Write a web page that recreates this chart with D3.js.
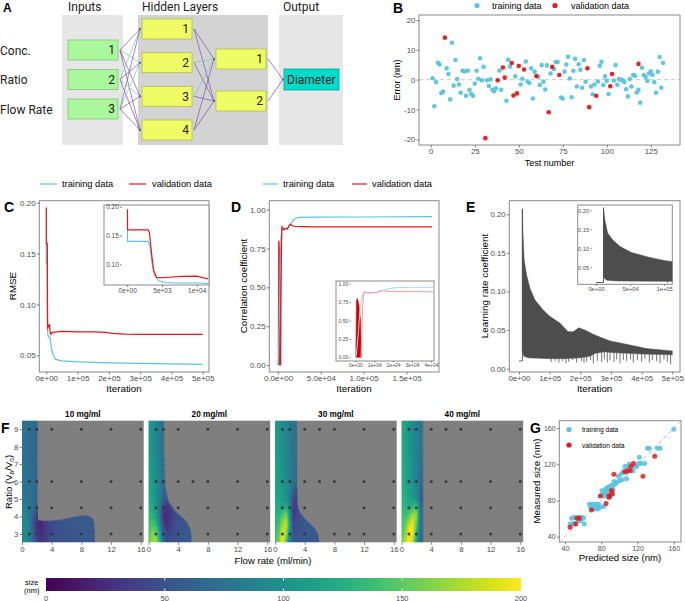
<!DOCTYPE html>
<html><head><meta charset="utf-8">
<script src="https://cdn.jsdelivr.net/npm/d3@7/dist/d3.min.js"></script>
<style>html,body{margin:0;padding:0;background:#fff;}svg{display:block;}</style>
</head><body>
<svg id="chart" width="685" height="601" xmlns="http://www.w3.org/2000/svg"></svg>
<script>
// ================= DATA =================
// Panel A
const layerTitles = ["Inputs", "Hidden Layers", "Output"];
const inputNames = ["Conc.", "Ratio", "Flow Rate"];
const inputNodes = ["1", "2", "3"];
const hidden1Nodes = ["1", "2", "3", "4"];
const hidden2Nodes = ["1", "2"];
const outputNodes = ["Diameter"];
const w1Sign = [[-1, 1, -1, -1], [1, -1, 1, -1], [-1, 1, -1, -1]];
const w2Sign = [[-1, -1], [1, -1], [1, -1], [-1, -1]];
const w3Sign = [[-1], [-1]];

// Panel B : [test number, error]
const bTrain = [[1,0.5],[2,-8.9],[3,-0.8],[4,5.7],[5,5.1],[6,-4.5],[7,-4],[9,3.8],[10,1.9],[11,-6.6],[12,12.4],[13,-2],[14,6.6],[15,0.2],[16,-1.6],[17,-4.4],[18,3],[19,2.8],[20,-5.4],[21,3],[22,-3.4],[23,-4.8],[24,-5.4],[25,-1.3],[26,3],[27,0.3],[28,7.2],[29,-0.2],[30,4.3],[32,-0.2],[33,-2.1],[34,0.1],[35,-3.4],[36,-3.9],[37,-2.9],[39,3.1],[40,-3.4],[43,-7.1],[44,6.7],[45,4.4],[48,1.1],[51,-1.6],[52,0.3],[54,6.1],[55,-0.6],[56,-1.1],[57,3.8],[58,-6.3],[59,2.7],[61,1.0],[62,-1.8],[63,4.9],[64,-0.7],[65,-3.3],[66,4.8],[68,2.1],[70,3.6],[71,5.9],[72,5.9],[74,-6.0],[75,-6.3],[76,2.7],[77,5.1],[78,7.7],[79,0.4],[80,-5.9],[81,3.0],[82,7.0],[83,-2.3],[84,5.2],[85,3.3],[86,-2.7],[87,6.6],[88,-0.7],[91,-2.3],[92,-4.9],[93,-1.6],[95,-0.6],[96,4.7],[97,6.0],[98,-1.8],[99,1.1],[100,-0.4],[101,-4.8],[104,-0.3],[105,4.9],[106,-1.7],[107,0.2],[108,0],[109,-0.2],[110,-0.8],[111,-3.2],[112,-5.6],[113,0.2],[114,-2.3],[115,1.6],[116,1.3],[117,-4.3],[118,-3.4],[119,-7.7],[120,4.0],[121,1.6],[122,1.0],[123,-0.4],[124,2.1],[125,2.8],[126,1.6],[127,-0.8],[128,-4.4],[129,2.7],[130,7.6],[131,-2.7],[132,5.6]];
const bVal = [[8,14.1],[31,-19.6],[38,-0.2],[41,4.1],[42,0.7],[46,5.6],[47,-5.3],[49,-4.6],[50,4.6],[53,3.4],[60,1.2],[67,-10.9],[69,4.3],[73,1.6],[89,3.8],[90,-9.2],[94,-5.4],[102,-2.2],[103,1.9],[118,5.3]];
const bXTicks = [0, 25, 50, 75, 100, 125];
const bYTicks = [-20, -10, 0, 10, 20];

// Panel C : RMSE vs iteration
const cRedIter = [0,30,60,3000,3200,3500,3800,4200,4700,6000,8000,10000,12000,14000,20000,50000,100000,150000,190000,210000,250000,300000,400000,500000];
const cRedVal  = [0.195,0.195,0.16,0.16,0.155,0.12,0.09,0.078,0.077,0.078,0.0795,0.08,0.074,0.071,0.0725,0.0735,0.073,0.073,0.0725,0.0715,0.0708,0.0705,0.0705,0.0705];
const cCyanIter = [0,30,60,3000,3300,3600,4000,4500,5500,7000,10000,12000,16000,22000,30000,50000,100000,200000,300000,400000,500000];
const cCyanVal  = [0.16,0.16,0.14,0.14,0.13,0.10,0.08,0.072,0.069,0.068,0.068,0.067,0.058,0.05,0.046,0.0445,0.0435,0.0425,0.042,0.0415,0.041];
const cXTicks = [0, 100000, 200000, 300000, 400000, 500000];
const cYTicks = [0.05, 0.10, 0.15, 0.20];
const cInXTicks = [0, 5000, 10000];
const cInYTicks = [0.10, 0.15, 0.20];

// Panel D : correlation vs iteration
const dCyanIter = [0,500,1500,2500,3500,4500,6000,9000,12000,15000,18000,21000,25000,40000,100000,180000];
const dCyanVal  = [0,0.02,0.3,0.65,0.82,0.875,0.88,0.88,0.885,0.91,0.935,0.945,0.95,0.952,0.953,0.955];
const dRedIter = [3000,3600,4200,4600,5500,6500,8000,10000,11000,13000,15000,17000,20000,40000,180000];
const dRedVal  = [0.0,0.5,0.8,0.89,0.885,0.87,0.875,0.88,0.875,0.9,0.905,0.895,0.893,0.89,0.89];
const dSpikeIter = [300,600,1200,2000,2800,3200];
const dSpikeTop  = [0.1,0.78,0.8,0.7,0.5,0.0];
const dXTicks = [0, 50000, 100000, 150000];
const dYTicks = [0, 0.25, 0.5, 0.75, 1];
const dInXTicks = [0, 10000, 20000, 30000, 40000];

// Panel E : learning rate coefficient
const eFlatIter = [0, 11000];
const eFlatVal = [0.01, 0.01];
const eUpperIter = [11000,13000,17000,25000,36000,52000,79000,100000,134000,160000,177000,195000,215000,242000,270000,297000,350000,416000,500000];
const eUpperVal  = [0.207,0.175,0.14,0.121,0.104,0.089,0.076,0.068,0.059,0.048,0.048,0.053,0.05,0.0445,0.04,0.036,0.0316,0.026,0.023];
const eLowerIter = [11000,13000,16000,30000,100000,150000,200000,230000,250000,280000,300000,400000,500000];
const eLowerVal  = [0.025,0.02,0.016,0.014,0.013,0.013,0.014,0.016,0.02,0.022,0.021,0.019,0.018];
const eSpikeIter = [105000,118000,130000,142400,153300,162000,175000,188000,204300,212000,220700,233700,242400,255400,269600,278300,288000,296700,309800,318500,329300,340200,351100,364100,372800,385900,400000,410900,425000,434800,448900,459800,472800,483700,494600];
const eSpikeLow  = [0.009,0.01,0.008,0.01,0.007,0.009,0.011,0.008,0.01,0.008,0.009,0.011,0.007,0.01,0.009,0.012,0.008,0.011,0.009,0.012,0.007,0.011,0.01,0.012,0.008,0.011,0.009,0.013,0.008,0.011,0.01,0.007,0.012,0.009,0.006];
const eXTicks = [0, 100000, 200000, 300000, 400000, 500000];
const eYTicks = [0, 0.05, 0.10, 0.15, 0.20];
const eInXTicks = [0, 50000, 100000];
const eInYTicks = [0.05, 0.10, 0.15, 0.20];

// Panel F : predicted size maps
const concs = ["10 mg/ml", "20 mg/ml", "30 mg/ml", "40 mg/ml"];
const gridFlows = [0, 0.5, 1, 1.5, 2, 2.5, 3, 4, 6, 8, 10];
const gridRatios = [2.5, 3, 3.5, 4, 4.5, 5, 6, 7.5, 9.5];
const grid10 = [
 [97,94,86,64,40,28,34,48,53,55,55],
 [95,92,85,62,38,25,32,48,53,55,55],
 [100,95,85,55,25,18,28,45,53,56,55],
 [95,90,80,60,35,28,38,48,55,57,55],
 [88,83,78,70,60,48,45,50,55,55,55],
 [82,78,74,70,65,55,50,52,55,55,55],
 [78,75,72,69,66,60,55,55,55,55,55],
 [75,72,70,68,66,60,55,55,55,55,55],
 [75,72,70,68,66,60,55,55,55,55,55]];
const grid20 = [
 [145,170,175,130,70,45,48,55,55,55,55],
 [140,165,160,115,60,38,45,55,55,55,55],
 [138,145,135,95,45,28,40,52,55,55,55],
 [135,130,118,80,28,22,35,50,55,55,55],
 [130,122,108,78,38,30,40,52,55,55,55],
 [125,116,102,85,60,48,48,52,55,55,55],
 [118,110,98,85,72,62,58,58,55,55,55],
 [112,104,94,83,74,68,65,60,55,55,55],
 [108,100,90,80,72,68,65,60,55,55,55]];
const grid30 = [
 [140,160,200,150,80,55,55,55,55,55,55],
 [135,150,195,170,90,50,52,55,55,55,55],
 [130,140,170,185,110,40,50,55,55,55,55],
 [128,130,150,170,100,30,48,55,55,55,55],
 [125,122,120,125,90,30,45,55,55,55,55],
 [122,118,110,102,80,45,40,55,55,55,55],
 [118,112,105,96,86,75,62,60,55,55,55],
 [112,107,100,92,84,76,70,60,55,55,55],
 [110,105,98,90,82,75,70,60,55,55,55]];
const grid40 = [
 [150,180,200,180,110,70,55,55,55,55,55],
 [145,165,200,195,130,75,55,55,55,55,55],
 [142,150,185,200,150,80,55,55,55,55,55],
 [140,138,150,180,170,85,55,55,55,55,55],
 [136,130,128,135,150,80,45,55,55,55,55],
 [132,125,118,110,100,70,35,55,55,55,55],
 [128,120,110,100,90,75,50,55,55,55,55],
 [124,117,107,97,88,80,70,60,55,55,55],
 [122,115,105,95,88,80,72,60,55,55,55]];
// upper edge of the predicted (coloured) region: ratio limit vs flow rate
const bound10Flow = [0,2.1,2.12,3,4,5,6,7,8,8.8,9.3,9.6,9.75,9.8,9.82];
const bound10Top  = [9.6,9.6,3.8,3.74,3.76,3.8,3.88,3.98,4.05,4.05,3.95,3.8,3.5,3.0,2.4];
const bound20Flow = [0,2.05,2.1,2.3,2.7,3.6,4.7,5.3,5.7,5.8,5.82];
const bound20Top  = [9.6,9.6,7.5,5.6,4.85,4.3,3.9,3.6,3.2,2.8,2.4];
const bound30Flow = [0,2.95,3.0,3.3,4.0,4.7,5.4,5.8,5.9,5.92];
const bound30Top  = [9.6,9.6,4.75,4.27,3.9,3.6,3.3,3.0,2.7,2.4];
const bound40Flow = [0,2.9,2.92];
const bound40Top  = [9.6,9.6,2.4];
// experiment points [flow, ratio]
const dots10 = [[1,9],[2,9],[4,9],[8,9],[12,9],[16,9],[1,6],[2,6],[4,6],[8,6],[12,6],[16,6],[1,4.5],[2,4.5],[4,4.5],[8,4.5],[12,4.5],[16,4.5],[1,3],[2,3],[4,3],[8,3],[12,3],[16,3]];
const dots20 = [[1,9],[2,9],[4,9],[8,9],[12,9],[16,9],[1,6],[2,6],[4,6],[6,6],[8,6],[12,6],[16,6],[1,4.5],[2,4.5],[4,4.5],[8,4.5],[12,4.5],[16,4.5],[1,3],[2,3],[4,3],[8,3],[12,3],[16,3]];
const dots30 = [[1,9],[2,9],[4,9],[6,9],[8,9],[12,9],[16,9],[1,6],[2,6],[4,6],[6,6],[8,6],[12,6],[16,6],[1,4.5],[2,4.5],[4,4.5],[12,4.5],[16,4.5],[1,3],[2,3],[4,3],[8,3],[10,3],[12,3],[16,3]];
const dots40 = [[1,9],[2,9],[4,9],[6,9],[8,9],[12,9],[16,9],[1,6],[2,6],[4,6],[6,6],[8,6],[12,6],[16,6],[1,4.5],[2,4.5],[4,4.5],[8,4.5],[12,4.5],[16,4.5],[1,3],[2,3],[4,3],[8,3],[12,3],[16,3]];
const fXTicks = [0, 4, 8, 12, 16];
const fYTicks = [3, 4, 5, 6, 7, 8, 9];
const cbTicks = [0, 50, 100, 150, 200];

// Panel G : [predicted, measured]
const gTrain = [[160,159],[131,138],[133,138],[142,138],[145,138],[122,128],[121,121],[124,121],[128,121],[111,120.5],[106,117.6],[109,117.6],[117,118],[119,117.6],[115,113],[104,112],[108,111],[102,109.5],[99,107],[94,101],[97,100],[100,102],[103,103],[108,104],[91,96.6],[88,95],[86,91],[89.5,91],[93,92],[81,91],[83,89],[84.5,87.5],[80,85.6],[83,85],[86,85.6],[87.6,83.7],[91,85.6],[85,93],[87,94],[90,95],[92,96],[95,98],[67,75.8],[70,75.8],[73.6,75.8],[77,75.8],[68,72.5],[72,72.5],[75.5,72.5],[79,72.5],[82.7,73.3],[70,71],[73.6,70.7],[76.6,70.7],[47.4,60.3],[50.3,61.4],[52.9,61],[55.5,61.4],[58.4,61.4],[60.2,60.3],[45.6,53.9],[48.1,53.9],[50.3,54.7],[54.8,57.6],[57.4,57.6],[61.3,53.9]];
const gVal = [[139,129],[115.5,121],[112.6,117.6],[106,112],[109,113],[112,113],[126,107],[94,109],[91.3,91],[92.4,87.4],[88.7,85.6],[89,83.7],[79,84.9],[85.3,76.6],[69.3,69.6],[53.3,60.3],[55.9,60.3],[45.6,50.3],[51.8,53.9]];
const gTicks = [40, 80, 120, 160];

// ================= DRAWING =================
const FONT = "'Liberation Sans', Arial, Helvetica, sans-serif";
const CY = "#5bc3de", RD = "#e3191c", DG = "#4d4d4d", BORDER = "#8a8a8a";
const svg = d3.select("#chart");
svg.append("rect").attr("width", 685).attr("height", 601).attr("fill", "#fff");
const defs = svg.append("defs");

function txt(g, x, y, s, o = {}) {
  const t = g.append("text").attr("x", x).attr("y", y).text(s)
    .attr("font-family", o.ff || FONT).attr("font-size", o.fs || 10).attr("fill", o.fill || "#000");
  if (o.anchor) t.attr("text-anchor", o.anchor);
  if (o.bold) t.attr("font-weight", "bold");
  if (o.rot) t.attr("transform", `rotate(-90,${x},${y})`);
  return t;
}
function sci(d, p) {
  if (d === 0) return (p ? (0).toFixed(p) : "0") + "e+00";
  const e = Math.floor(Math.log10(Math.abs(d)) + 1e-9);
  const m = d / Math.pow(10, e);
  return m.toFixed(p) + "e" + (e < 0 ? "-" : "+") + String(Math.abs(e)).padStart(2, "0");
}
function styleAxis(a, fs) {
  a.select(".domain").remove();
  a.attr("font-size", fs).attr("font-family", FONT);
  a.selectAll("line").attr("stroke", "#333").attr("stroke-width", 0.6);
  a.selectAll("text").attr("fill", "#4d4d4d");
}
function axB(g, scale, y, vals, fmt, fs, size = 2.5) {
  const a = g.append("g").attr("transform", `translate(0,${y})`)
    .call(d3.axisBottom(scale).tickValues(vals).tickFormat(fmt).tickSize(size).tickPadding(1.2));
  styleAxis(a, fs); return a;
}
function axL(g, scale, x, vals, fmt, fs, size = 2.5) {
  const a = g.append("g").attr("transform", `translate(${x},0)`)
    .call(d3.axisLeft(scale).tickValues(vals).tickFormat(fmt).tickSize(size).tickPadding(1.2));
  styleAxis(a, fs); return a;
}
let clipId = 0;
function clip(x0, y0, x1, y1) {
  const id = "cl" + (clipId++);
  defs.append("clipPath").attr("id", id).append("rect").attr("x", x0).attr("y", y0).attr("width", x1 - x0).attr("height", y1 - y0);
  return `url(#${id})`;
}
function frame(g, x0, y0, x1, y1, fill = "none") {
  g.append("rect").attr("x", x0).attr("y", y0).attr("width", x1 - x0).attr("height", y1 - y0)
    .attr("fill", fill).attr("stroke", BORDER).attr("stroke-width", 1);
}
const zip = (a, b) => a.map((v, i) => [v, b[i]]);

// ---------- Panel A ----------
{
  const g = svg.append("g");
  const AF = "Roboto, 'Liberation Sans', sans-serif";
  txt(g, 3, 12, "A", { fs: 12, bold: true });
  const bgs = [[62, 123, "#e6e6e6"], [138, 268, "#d3d3d3"], [279, 343, "#e6e6e6"]];
  bgs.forEach(b => g.append("rect").attr("x", b[0]).attr("y", 15).attr("width", b[1] - b[0]).attr("height", 130).attr("fill", b[2]));
  const titleX = [68, 142, 283];
  layerTitles.forEach((t, i) => txt(g, titleX[i], 10.5, t, { ff: AF, fs: 12, fill: "#222" }));
  const yIn = d3.scalePoint().domain(inputNodes).range([50, 109]);
  const yH1 = d3.scalePoint().domain(hidden1Nodes).range([29, 130]);
  const yH2 = d3.scalePoint().domain(hidden2Nodes).range([59, 101]);
  const yOut = d3.scalePoint().domain(outputNodes).range([79.5, 79.5]);
  const col = s => s > 0 ? "#7fcab9" : "#7a5ea6";
  const lines = g.append("g").attr("stroke-width", 0.75).attr("fill", "none");
  inputNodes.forEach((a, i) => hidden1Nodes.forEach((b, j) =>
    lines.append("line").attr("x1", 120).attr("y1", yIn(a)).attr("x2", 140).attr("y2", yH1(b)).attr("stroke", col(w1Sign[i][j]))));
  hidden1Nodes.forEach((a, i) => hidden2Nodes.forEach((b, j) =>
    lines.append("line").attr("x1", 194).attr("y1", yH1(a)).attr("x2", 214).attr("y2", yH2(b)).attr("stroke", col(w2Sign[i][j]))));
  hidden2Nodes.forEach((a, i) => outputNodes.forEach((b, j) =>
    lines.append("line").attr("x1", 268).attr("y1", yH2(a)).attr("x2", 283).attr("y2", yOut(b)).attr("stroke", col(w3Sign[i][j]))));
  function boxes(nodes, sc, x0, w, h, fill, stroke, textX, anchor) {
    nodes.forEach(n => {
      g.append("rect").attr("x", x0).attr("y", sc(n) - h / 2).attr("width", w).attr("height", h)
        .attr("fill", fill).attr("stroke", stroke).attr("stroke-width", 0.8);
      txt(g, textX, sc(n) + 4.3, n, { ff: AF, fs: 12, fill: "#222", anchor });
    });
  }
  boxes(inputNodes, yIn, 68, 50, 20, "#abf79c", "#86c27a", 115, "end");
  boxes(hidden1Nodes, yH1, 142, 50, 20, "#eefd66", "#b5bd45", 189, "end");
  boxes(hidden2Nodes, yH2, 216, 50, 20, "#eefd66", "#b5bd45", 263, "end");
  boxes(outputNodes, yOut, 284, 55, 21, "#00dccb", "#00a597", 287, "start");
  [[hidden1Nodes, yH1, 140], [hidden2Nodes, yH2, 214], [outputNodes, yOut, 283]].forEach(([n, sc, x]) =>
    n.forEach(v => g.append("circle").attr("cx", x).attr("cy", sc(v)).attr("r", 1).attr("fill", "#5d4a86")));
  inputNames.forEach((n, i) => txt(g, 0, yIn(inputNodes[i]) + 4.5, n, { ff: AF, fs: 12, fill: "#222" }));
}

// ---------- Panel B ----------
{
  const g = svg.append("g");
  const x = d3.scaleLinear().domain([-6.7, 141.6]).range([419, 680]);
  const y = d3.scaleLinear().domain([-21.9, 21.7]).range([145, 15]);
  g.append("line").attr("x1", 419).attr("x2", 680).attr("y1", y(0)).attr("y2", y(0))
    .attr("stroke", "#c8c8c8").attr("stroke-dasharray", "4,3").attr("stroke-width", 1);
  g.selectAll(".bt").data(bTrain).join("circle").attr("cx", d => x(d[0])).attr("cy", d => y(d[1])).attr("r", 2.3).attr("fill", CY).attr("opacity", 0.95);
  g.selectAll(".bv").data(bVal).join("circle").attr("cx", d => x(d[0])).attr("cy", d => y(d[1])).attr("r", 2.3).attr("fill", RD).attr("opacity", 0.95);
  frame(g, 419, 15, 680, 145);
  axB(g, x, 145, bXTicks, d => String(d), 7.8);
  axL(g, y, 419, bYTicks, d => String(d), 7.8);
  txt(g, 549.5, 166, "Test number", { fs: 9, anchor: "middle" });
  txt(g, 400, 80, "Error (nm)", { fs: 9, anchor: "middle", rot: true });
  txt(g, 393, 13, "B", { fs: 14, bold: true });
  g.append("circle").attr("cx", 477).attr("cy", 5.5).attr("r", 2.6).attr("fill", CY);
  txt(g, 492, 9, "training data", { fs: 9 });
  g.append("circle").attr("cx", 555).attr("cy", 5.5).attr("r", 2.6).attr("fill", RD);
  txt(g, 571, 9, "validation data", { fs: 9 });
}

// ---------- Panel C ----------
{
  const g = svg.append("g");
  const x = d3.scaleLinear().domain([-22400, 520000]).range([39.3, 209]);
  const y = d3.scaleLinear().domain([0.0336, 0.202]).range([372, 200.7]);
  const line = d3.line().x(d => x(d[0])).y(d => y(d[1]));
  const cp = clip(39.3, 200.7, 209, 372);
  g.append("path").attr("d", line(zip(cCyanIter, cCyanVal))).attr("fill", "none").attr("stroke", CY).attr("stroke-width", 1.2).attr("clip-path", cp);
  g.append("path").attr("d", line(zip(cRedIter, cRedVal))).attr("fill", "none").attr("stroke", RD).attr("stroke-width", 1.3).attr("clip-path", cp);
  frame(g, 39.3, 200.7, 209, 372);
  axB(g, x, 372, cXTicks, d => sci(d, 0), 8);
  axL(g, y, 39.3, cYTicks, d3.format(".2f"), 8);
  txt(g, 124, 392, "Iteration", { fs: 9.8, anchor: "middle" });
  txt(g, 15.5, 286, "RMSE", { fs: 9.8, anchor: "middle", rot: true });
  txt(g, 4, 212, "C", { fs: 14, bold: true });
  g.append("line").attr("x1", 40).attr("x2", 57).attr("y1", 184).attr("y2", 184).attr("stroke", CY).attr("stroke-width", 1.2);
  txt(g, 62, 187.3, "training data", { fs: 9.3 });
  g.append("line").attr("x1", 129).attr("x2", 146).attr("y1", 184).attr("y2", 184).attr("stroke", RD).attr("stroke-width", 1.2);
  txt(g, 152, 187.3, "validation data", { fs: 9.3 });
  // inset
  const xi = d3.scaleLinear().domain([-750, 11630]).range([122, 208]);
  const yi = d3.scaleLinear().domain([0.0646, 0.203]).range([285, 205]);
  frame(g, 104, 205, 209, 285, "#fff");
  const li = d3.line().x(d => xi(d[0])).y(d => yi(d[1]));
  const cpi = clip(122, 205, 208, 285);
  g.append("path").attr("d", li(zip(cCyanIter, cCyanVal))).attr("fill", "none").attr("stroke", CY).attr("stroke-width", 1.1).attr("clip-path", cpi);
  g.append("path").attr("d", li(zip(cRedIter, cRedVal))).attr("fill", "none").attr("stroke", RD).attr("stroke-width", 1.2).attr("clip-path", cpi);
  axB(g, xi, 285, cInXTicks, d => sci(d, 0), 6.5, 2);
  axL(g, yi, 122, cInYTicks, d3.format(".2f"), 6.5, 2);
}

// ---------- Panel D ----------
{
  const g = svg.append("g");
  const x = d3.scaleLinear().domain([-10150, 187900]).range([269.3, 439]);
  const y = d3.scaleLinear().domain([-0.045, 1.058]).range([372, 200.7]);
  const line = d3.line().x(d => x(d[0])).y(d => y(d[1]));
  const area = d3.area().x(d => x(d[0])).y0(y(0)).y1(d => y(d[1]));
  const cp = clip(269.3, 200.7, 439, 372);
  g.append("path").attr("d", area(zip(dSpikeIter, dSpikeTop))).attr("fill", RD).attr("stroke", RD).attr("stroke-width", 0.8).attr("clip-path", cp);
  g.append("path").attr("d", line(zip(dCyanIter, dCyanVal))).attr("fill", "none").attr("stroke", CY).attr("stroke-width", 1.2).attr("clip-path", cp);
  g.append("path").attr("d", line(zip(dRedIter, dRedVal))).attr("fill", "none").attr("stroke", RD).attr("stroke-width", 1.2).attr("clip-path", cp);
  frame(g, 269.3, 200.7, 439, 372);
  axB(g, x, 372, dXTicks, d => sci(d, 1), 8);
  axL(g, y, 269.3, dYTicks, d3.format(".2f"), 8);
  txt(g, 354, 392, "Iteration", { fs: 9.8, anchor: "middle" });
  txt(g, 246.5, 286, "Correlation coefficient", { fs: 9.8, anchor: "middle", rot: true });
  txt(g, 231, 212, "D", { fs: 14, bold: true });
  g.append("line").attr("x1", 263).attr("x2", 278).attr("y1", 184).attr("y2", 184).attr("stroke", CY).attr("stroke-width", 1.2);
  txt(g, 283, 187.3, "training data", { fs: 9.3 });
  g.append("line").attr("x1", 352).attr("x2", 367).attr("y1", 184).attr("y2", 184).attr("stroke", RD).attr("stroke-width", 1.2);
  txt(g, 372, 187.3, "validation data", { fs: 9.3 });
  // inset
  const xi = d3.scaleLinear().domain([-2270, 41100]).range([351, 433]);
  const yi = d3.scaleLinear().domain([-0.05, 1.037]).range([361, 281]);
  frame(g, 336, 281, 434, 361, "#fff");
  const li = d3.line().x(d => xi(d[0])).y(d => yi(d[1]));
  const ai = d3.area().x(d => xi(d[0])).y0(yi(0)).y1(d => yi(d[1]));
  const cpi = clip(351, 281, 433, 361);
  g.append("path").attr("d", ai(zip(dSpikeIter, dSpikeTop))).attr("fill", "#d40000").attr("stroke", "#d40000").attr("stroke-width", 0.5).attr("clip-path", cpi);
  g.append("path").attr("d", li(zip(dCyanIter, dCyanVal))).attr("fill", "none").attr("stroke", "#a3dcec").attr("stroke-width", 1).attr("clip-path", cpi);
  g.append("path").attr("d", li(zip(dRedIter, dRedVal))).attr("fill", "none").attr("stroke", "#f39a9a").attr("stroke-width", 1).attr("clip-path", cpi);
  axB(g, xi, 361, dInXTicks, d => sci(d, 0), 5, 1.5);
  axL(g, yi, 351, dYTicks, d3.format(".2f"), 5, 1.5);
}

// ---------- Panel E ----------
function drawLR(g, x, y, cp, sw) {
  const up = zip(eUpperIter, eUpperVal), lo = zip(eLowerIter, eLowerVal).reverse();
  const poly = d3.line().x(d => x(d[0])).y(d => y(d[1]));
  g.append("path").attr("d", poly(up.concat(lo)) + "Z").attr("fill", DG).attr("stroke", DG).attr("stroke-width", 0.5).attr("clip-path", cp);
  g.append("path").attr("d", poly(zip(eFlatIter, eFlatVal).concat([[eUpperIter[0], eUpperVal[0]]]))).attr("fill", "none").attr("stroke", DG).attr("stroke-width", 0.9).attr("clip-path", cp);
  const loS = d3.scaleLinear().domain(eLowerIter).range(eLowerVal);
  g.append("g").attr("clip-path", cp).selectAll("line").data(zip(eSpikeIter, eSpikeLow)).join("line")
    .attr("x1", d => x(d[0])).attr("x2", d => x(d[0])).attr("y1", d => y(loS(d[0]))).attr("y2", d => y(d[1]))
    .attr("stroke", DG).attr("stroke-width", sw);
}
{
  const g = svg.append("g");
  const x = d3.scaleLinear().domain([-31600, 525100]).range([509.3, 680]);
  const y = d3.scaleLinear().domain([-0.0043, 0.2176]).range([372, 200.7]);
  drawLR(g, x, y, clip(509.3, 200.7, 680, 372), 0.8);
  frame(g, 509.3, 200.7, 680, 372);
  axB(g, x, 372, eXTicks, d => sci(d, 0), 7.8);
  axL(g, y, 509.3, eYTicks, d3.format(".2f"), 7.8);
  txt(g, 594.6, 392, "Iteration", { fs: 9.8, anchor: "middle" });
  txt(g, 488, 286, "Learning rate coefficient", { fs: 9.8, anchor: "middle", rot: true });
  txt(g, 466, 212, "E", { fs: 14, bold: true });
  // inset
  const xi = d3.scaleLinear().domain([-5900, 112000]).range([592, 672.3]);
  const yi = d3.scaleLinear().domain([0.0053, 0.214]).range([284.3, 205]);
  frame(g, 577.7, 205, 672.3, 284.3, "#fff");
  drawLR(g, xi, yi, clip(592, 205, 672.3, 284.3), 0.8);
  axB(g, xi, 284.3, eInXTicks, d => sci(d, 0), 5.8, 1.5);
  axL(g, yi, 592, eInYTicks, d3.format(".2f"), 5.8, 1.5);
}

// ---------- Panel F ----------
{
  const g = svg.append("g");
  const grids = [grid10, grid20, grid30, grid40];
  const bFlows = [bound10Flow, bound20Flow, bound30Flow, bound40Flow];
  const bTops = [bound10Top, bound20Top, bound30Top, bound40Top];
  const dots = [dots10, dots20, dots30, dots40];
  const band = d3.scaleBand().domain(concs).range([22, 523.2]).paddingInner(0.038);
  const Y0 = 420.7, Y1 = 542.3;
  const y = d3.scaleLinear().domain([2.52, 9.49]).range([Y1, Y0]);
  const color = d3.scaleSequential(d3.interpolateViridis).domain([0, 200]);
  function bilinear(grid, f, r) {
    let i = d3.bisectRight(gridFlows, f) - 1; i = Math.max(0, Math.min(gridFlows.length - 2, i));
    let j = d3.bisectRight(gridRatios, r) - 1; j = Math.max(0, Math.min(gridRatios.length - 2, j));
    const tf = Math.max(0, Math.min(1, (f - gridFlows[i]) / (gridFlows[i + 1] - gridFlows[i])));
    const tr = Math.max(0, Math.min(1, (r - gridRatios[j]) / (gridRatios[j + 1] - gridRatios[j])));
    const a = grid[j][i] * (1 - tf) + grid[j][i + 1] * tf;
    const b = grid[j + 1][i] * (1 - tf) + grid[j + 1][i + 1] * tf;
    return a * (1 - tr) + b * tr;
  }
  concs.forEach((c, k) => {
    const x0 = band(c), bw = band.bandwidth();
    const x = d3.scaleLinear().domain([0, 16.4]).range([x0, x0 + bw]);
    const pw = Math.round(bw) * 2, ph = Math.round(Y1 - Y0) * 2;
    const cv = document.createElement("canvas"); cv.width = pw; cv.height = ph;
    const ctx = cv.getContext("2d"); const img = ctx.createImageData(pw, ph);
    const topS = d3.scaleLinear().domain(bFlows[k]).range(bTops[k]);
    const maxF = bFlows[k][bFlows[k].length - 1];
    for (let py = 0; py < ph; py++) {
      const r = y.invert(Y0 + (py + 0.5) * (Y1 - Y0) / ph);
      for (let px = 0; px < pw; px++) {
        const f = x.invert(x0 + (px + 0.5) * bw / pw);
        let R = 127, G = 127, B = 127;
        if (f <= maxF && r <= topS(f)) { const cc = d3.rgb(color(bilinear(grids[k], f, r))); R = cc.r; G = cc.g; B = cc.b; }
        const o = (py * pw + px) * 4;
        img.data[o] = R; img.data[o + 1] = G; img.data[o + 2] = B; img.data[o + 3] = 255;
      }
    }
    ctx.putImageData(img, 0, 0);
    g.append("image").attr("x", x0).attr("y", Y0).attr("width", bw).attr("height", Y1 - Y0)
      .attr("preserveAspectRatio", "none").attr("href", cv.toDataURL());
    g.selectAll(".d" + k).data(dots[k]).join("circle").attr("cx", d => x(d[0])).attr("cy", d => y(d[1]))
      .attr("r", 1.5).attr("fill", "#333").attr("opacity", 0.9);
    txt(g, x0 + bw / 2, 417, c, { fs: 8.2, bold: true, anchor: "middle" });
    axB(g, x, Y1, fXTicks, d => String(d), 7.8);
    if (k === 0) axL(g, y, x0, fYTicks, d => String(d), 7.8);
  });
  txt(g, 273, 564, "Flow rate (ml/min)", { fs: 9.6, anchor: "middle" });
  const t = g.append("text").attr("font-family", FONT).attr("font-size", 9.6).attr("text-anchor", "middle")
    .attr("transform", "translate(11.5,482) rotate(-90)");
  t.append("tspan").text("Ratio (V");
  t.append("tspan").text("a").attr("font-size", 6.5).attr("dy", 2);
  t.append("tspan").text("/V").attr("dy", -2);
  t.append("tspan").text("o").attr("font-size", 6.5).attr("dy", 2);
  t.append("tspan").text(")").attr("dy", -2);
  txt(g, 1, 433, "F", { fs: 14, bold: true });
  // colour bar
  const cb = d3.scaleLinear().domain([0, 200]).range([46, 521]);
  const grad = defs.append("linearGradient").attr("id", "vir").attr("x1", "0%").attr("x2", "100%");
  d3.range(0, 1.0001, 0.05).forEach(t => grad.append("stop").attr("offset", (t * 100) + "%").attr("stop-color", color(t * 200)));
  g.append("rect").attr("x", cb(0)).attr("y", 578).attr("width", cb(200) - cb(0)).attr("height", 13).attr("fill", "url(#vir)");
  cbTicks.slice(1, -1).forEach(v => {
    g.append("line").attr("x1", cb(v)).attr("x2", cb(v)).attr("y1", 578).attr("y2", 580.5).attr("stroke", "#fff").attr("stroke-width", 0.8);
    g.append("line").attr("x1", cb(v)).attr("x2", cb(v)).attr("y1", 588.5).attr("y2", 591).attr("stroke", "#fff").attr("stroke-width", 0.8);
  });
  cbTicks.forEach(v => txt(g, cb(v), 600.5, String(v), { fs: 7.5, fill: "#4d4d4d", anchor: "middle" }));
  txt(g, 25, 585, "size", { fs: 7.5 });
  txt(g, 24, 593, "(nm)", { fs: 7.5 });
}

// ---------- Panel G ----------
{
  const g = svg.append("g");
  const x = d3.scaleLinear().domain([33.7, 168]).range([559.3, 681]);
  const y = d3.scaleLinear().domain([34.1, 168.4]).range([542, 420.7]);
  const cp = clip(559.3, 420.7, 681, 542);
  g.append("line").attr("x1", x(33.7)).attr("y1", y(33.7)).attr("x2", x(168)).attr("y2", y(168))
    .attr("stroke", "#bdbdbd").attr("stroke-dasharray", "4,3").attr("stroke-width", 1).attr("clip-path", cp);
  g.selectAll(".gt").data(gTrain).join("circle").attr("cx", d => x(d[0])).attr("cy", d => y(d[1])).attr("r", 2.5).attr("fill", CY).attr("opacity", 0.9);
  g.selectAll(".gv").data(gVal).join("circle").attr("cx", d => x(d[0])).attr("cy", d => y(d[1])).attr("r", 2.5).attr("fill", RD).attr("opacity", 0.85);
  frame(g, 559.3, 420.7, 681, 542);
  axB(g, x, 542, gTicks, d => String(d), 7);
  axL(g, y, 559.3, gTicks, d => String(d), 7);
  txt(g, 620, 561, "Predicted size (nm)", { fs: 9.6, anchor: "middle" });
  txt(g, 540, 481, "Measured size (nm)", { fs: 9.6, anchor: "middle", rot: true });
  txt(g, 530, 433, "G", { fs: 14, bold: true });
  g.append("circle").attr("cx", 569).attr("cy", 429.5).attr("r", 2.6).attr("fill", CY);
  txt(g, 582, 432, "training data", { fs: 6.6 });
  g.append("circle").attr("cx", 569).attr("cy", 445).attr("r", 2.6).attr("fill", RD);
  txt(g, 582, 447.5, "validation data", { fs: 6.6 });
}
</script>
</body></html>
